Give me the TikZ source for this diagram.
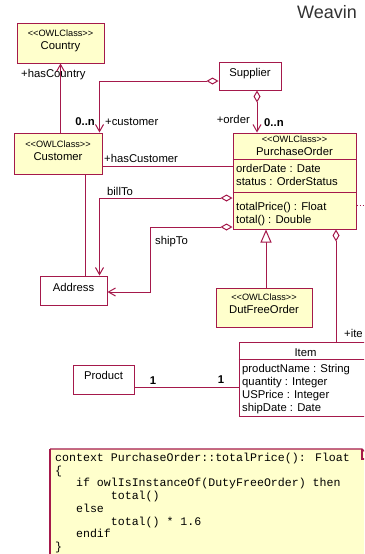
\documentclass[tikz,border=0pt]{standalone}
\usepackage{fontspec}
\setmainfont{Liberation Sans}
\newfontfamily\codefont{Liberation Mono}
\usetikzlibrary{arrows.meta}
\definecolor{umlline}{RGB}{165,25,75}
\definecolor{umlfill}{RGB}{255,255,204}
\definecolor{titlegray}{RGB}{50,50,50}
\newcommand{\owlst}{{<}{<}OWLClass{>}{>}}
\begin{document}
\begin{tikzpicture}[x=1pt,y=-1pt,
  box/.style={draw=umlline, line width=1pt, fill=white, inner sep=0pt, rectangle},
  ybox/.style={box, fill=umlfill},
  stereo/.style={font=\fontsize{9.2}{11}\selectfont, anchor=base, inner sep=0pt},
  cname/.style={font=\fontsize{11.3}{13}\selectfont, anchor=base, inner sep=0pt},
  attr/.style={font=\fontsize{11.3}{13}\selectfont, anchor=base west, inner sep=0pt},
  lbl/.style={font=\fontsize{11.3}{13}\selectfont, anchor=base west, inner sep=0pt},
  mult/.style={font=\bfseries\fontsize{11.3}{13}\selectfont, anchor=base west, inner sep=0pt},
  conn/.style={draw=umlline, line width=1pt},
  nav/.style={-{Straight Barb[length=7pt,width=8pt]}},
  agg/.style={{Diamond[fill=white,length=12pt,width=7pt]}-},
  aggnav/.style={{Diamond[fill=white,length=12pt,width=7pt]}-{Straight Barb[length=7pt,width=8pt]}},
  gen/.style={-{Triangle[fill=white,length=13pt,width=11pt]}},
  codeline/.style={font=\codefont\fontsize{11.6}{12}\selectfont, anchor=base west, inner sep=0pt},
]
\useasboundingbox (0,0) rectangle (364,554);
\clip (0,0) rectangle (364,554);

% title
\node[anchor=base west, inner sep=0pt, text=titlegray, font=\fontsize{18}{20}\selectfont] (title) at (297,18) {Weavin};

% classes
\node[ybox, minimum width=87pt, minimum height=40pt] (country) at (60.5,43) {};
\node[stereo] (countrys) at (60.5,36.4) {\owlst};
\node[cname] (countryn) at (60.5,49) {Country};

\node[box, minimum width=62pt, minimum height=28pt] (supplier) at (250,76) {};
\node[cname] (suppliern) at (250,76) {Supplier};

\node[ybox, minimum width=88pt, minimum height=41pt] (customer) at (58,153.5) {};
\node[stereo] (customers) at (58,147.4) {\owlst};
\node[cname] (customern) at (58,160) {Customer};

\node[ybox, minimum width=123pt, minimum height=96pt] (po) at (294.5,181) {};
\draw[conn] (po.west |- 0,159) -- (po.east |- 0,159);
\draw[conn] (po.west |- 0,192) -- (po.east |- 0,192);
\node[stereo] (pos) at (294.5,142.4) {\owlst};
\node[cname] (pon) at (294.5,155) {PurchaseOrder};
\node[attr] (poa1) at (236,172) {orderDate : Date};
\node[attr] (poa2) at (236,185) {status : OrderStatus};
\node[attr] (pom1) at (236,210) {totalPrice() : Float};
\node[attr] (pom2) at (236,223) {total() : Double};

\node[box, minimum width=67pt, minimum height=29pt] (address) at (73.5,290.5) {};
\node[cname] (addressn) at (73.5,291) {Address};

\node[ybox, minimum width=96pt, minimum height=39pt] (dfo) at (264,307.5) {};
\node[stereo] (dfos) at (264,300.4) {\owlst};
\node[cname] (dfon) at (264,313) {DutFreeOrder};

\node[box, minimum width=61pt, minimum height=29pt] (product) at (103.5,379.5) {};
\node[cname] (productn) at (103.5,379) {Product};

\node[box, minimum width=133pt, minimum height=74pt] (item) at (305.5,379) {};
\draw[conn] (item.west |- 0,359) -- (item.east |- 0,359);
\node[cname] (itemn) at (305.5,356) {Item};
\node[attr] (itema1) at (242,372) {productName : String};
\node[attr] (itema2) at (242,385) {quantity : Integer};
\node[attr] (itema3) at (242,398) {USPrice : Integer};
\node[attr] (itema4) at (242,411) {shipDate : Date};

% connectors
\draw[conn, aggnav] ([yshift=-5pt]supplier.west) -| ([xshift=-3pt]customer.north east);
\coordinate (s1) at ([xshift=7pt]supplier.south);
\draw[conn, aggnav] (s1) -- (s1 |- po.north);
\draw[conn, nav] (customer.north -| country.south) -- (country.south);
\coordinate (c4) at ([yshift=-12.5pt]customer.east);
\draw[conn] (c4) -- (c4 -| po.west);
\draw[conn, aggnav] ([yshift=-17pt]po.west) -| ([xshift=-8pt]address.north east);
\coordinate (st) at ([yshift=-1.5pt]address.east);
\draw[conn, aggnav] ([yshift=-46pt]po.west) -| ([xshift=43pt]st) -- (st);
\coordinate (cu) at ([xshift=27pt]customer.south);
\draw[conn] (cu) -- (cu |- address.north);
\coordinate (g1) at ([xshift=2pt]dfo.north);
\draw[conn, gen] (g1) -- (g1 |- po.south);
\coordinate (p1) at ([xshift=41.5pt]po.south);
\draw[conn, agg] (p1) -- (p1 |- item.north);
\coordinate (pr) at ([yshift=-7.5pt]product.east);
\draw[conn] (pr) -- (pr -| item.west);
\coordinate (d1) at ([yshift=-24pt]po.east);
\coordinate (d2) at (368,205);
\draw[conn, dotted, line width=0.8pt] (d1) -- (d2);

% labels
\node[lbl] (lhc) at (21,77) {+hasCountry};
\node[mult, anchor=base east] (m1) at (95,125) {0..n};
\node[lbl] (lcus) at (105,125) {+customer};
\node[lbl, anchor=base east] (lord) at (250,123) {+order};
\node[mult] (m2) at (264,126) {0..n};
\node[lbl] (lhcu) at (104,162) {+hasCustomer};
\node[lbl] (lbill) at (107,195) {billTo};
\node[lbl] (lship) at (155,244) {shipTo};
\node[mult, anchor=base] (one1) at (153,384) {1};
\node[mult, anchor=base] (one2) at (221,383) {1};
\node[lbl] (litem) at (344,337) {+ite};

% note
\fill[umlfill] (50,449) -- (362,449) -- (372,459) -- (372,560) -- (50,560) -- cycle;
\draw[conn, line width=1.2pt] (50,449) -- (362,449) -- (372,459) -- (372,560);
\draw[conn, line width=1.2pt] (362,449) -- (362,459) -- (372,459);
\draw[umlline, line width=1.8pt] (50,449) -- (50,560);
\node[codeline] (code1) at (55,461.5) {context PurchaseOrder::totalPrice(): Float};
\node[codeline] (code2) at (55,474.2) {\{};
\node[codeline] (code3) at (55,486.9) {\phantom{xxx}if owlIsInstanceOf(DutyFreeOrder) then};
\node[codeline] (code4) at (55,499.6) {\phantom{xxxxxxxx}total()};
\node[codeline] (code5) at (55,512.3) {\phantom{xxx}else};
\node[codeline] (code6) at (55,525) {\phantom{xxxxxxxx}total() * 1.6};
\node[codeline] (code7) at (55,537.7) {\phantom{xxx}endif};
\node[codeline] (code8) at (55,550.4) {\}};
\end{tikzpicture}
\end{document}
